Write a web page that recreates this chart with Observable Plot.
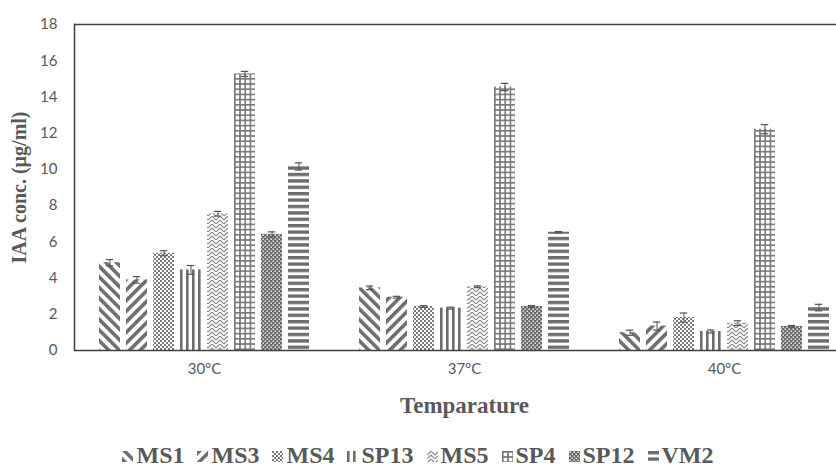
<!DOCTYPE html>
<html>
<head>
<meta charset="utf-8">
<script src="https://cdn.jsdelivr.net/npm/d3@7"></script>
<script src="https://cdn.jsdelivr.net/npm/@observablehq/plot@0.6"></script>
<style>
  html, body { margin: 0; padding: 0; background: #fff; }
  #chart { width: 836px; }
  #legend {
    width: 836px; text-align: center; margin-top: 12px;
    font-family: "Liberation Serif", "Times New Roman", serif; font-weight: bold;
    font-size: 24px; color: #595959; white-space: nowrap; line-height: 26px;
  }
  #legend .item { display: inline-block; margin: 0 6.5px; }
  #legend svg { vertical-align: 1px; margin-right: 3px; }
</style>
</head>
<body>
<svg width="0" height="0" style="position:absolute">
  <defs>
    <pattern id="pat-MS1" patternUnits="userSpaceOnUse" width="7.5" height="7.5" patternTransform="rotate(-45)">
      <rect width="7.5" height="7.5" fill="#fff"/><rect width="3.6" height="7.5" fill="#6e6e6e"/>
    </pattern>
    <pattern id="pat-MS3" patternUnits="userSpaceOnUse" width="7.5" height="7.5" patternTransform="rotate(45)">
      <rect width="7.5" height="7.5" fill="#fff"/><rect width="3.6" height="7.5" fill="#6e6e6e"/>
    </pattern>
    <pattern id="pat-MS4" patternUnits="userSpaceOnUse" width="4" height="4">
      <rect width="4" height="4" fill="#fff"/><rect width="2" height="2" fill="#7a7a7a"/><rect x="2" y="2" width="2" height="2" fill="#7a7a7a"/>
    </pattern>
    <pattern id="pat-SP13" patternUnits="userSpaceOnUse" width="6" height="6">
      <rect width="6" height="6" fill="#fff"/><rect width="2.6" height="6" fill="#6e6e6e"/>
    </pattern>
    <pattern id="pat-MS5" patternUnits="userSpaceOnUse" width="8" height="8">
      <rect width="8" height="8" fill="#fff"/>
      <path d="M0,4 L4,0 L8,4 M0,8 L4,4 L8,8" fill="none" stroke="#8a8a8a" stroke-width="1.2"/>
    </pattern>
    <pattern id="pat-SP4" patternUnits="userSpaceOnUse" width="5.2" height="5.2">
      <rect width="5.2" height="5.2" fill="#fff"/><rect width="1.6" height="5.2" fill="#777"/><rect width="5.2" height="1.6" fill="#777"/>
    </pattern>
    <pattern id="pat-SP12" patternUnits="userSpaceOnUse" width="4" height="4">
      <rect width="4" height="4" fill="#6a6a6a"/><rect x="0.5" y="0.5" width="1.4" height="1.4" fill="#fff"/><rect x="2.5" y="2.5" width="1.4" height="1.4" fill="#fff"/>
    </pattern>
    <pattern id="pat-VM2" patternUnits="userSpaceOnUse" width="6.4" height="6.4">
      <rect width="6.4" height="6.4" fill="#fff"/><rect width="6.4" height="3.4" fill="#6e6e6e"/>
    </pattern>
  </defs>
</svg>
<div id="chart"></div>
<div id="legend"></div>
<script>
// ---- data ----
const temperatures = ["30°C", "37°C", "40°C"];
const strains = ["MS1", "MS3", "MS4", "SP13", "MS5", "SP4", "SP12", "VM2"];
// mean IAA concentration (µg/ml) per strain at 30, 37, 40 °C
const MS1  = [4.85, 3.46, 0.98];
const MS3  = [3.90, 2.94, 1.35];
const MS4  = [5.37, 2.43, 1.82];
const SP13 = [4.45, 2.34, 1.05];
const MS5  = [7.55, 3.52, 1.51];
const SP4  = [15.27, 14.55, 12.22];
const SP12 = [6.41, 2.43, 1.33];
const VM2  = [10.16, 6.53, 2.37];
// standard errors
const MS1err  = [0.17, 0.10, 0.14];
const MS3err  = [0.18, 0.05, 0.22];
const MS4err  = [0.14, 0.05, 0.25];
const SP13err = [0.24, 0.05, 0.08];
const MS5err  = [0.13, 0.05, 0.13];
const SP4err  = [0.14, 0.20, 0.25];
const SP12err = [0.14, 0.05, 0.05];
const VM2err  = [0.20, 0.04, 0.18];
const yTicks = [0, 2, 4, 6, 8, 10, 12, 14, 16, 18];

const series = {MS1, MS3, MS4, SP13, MS5, SP4, SP12, VM2};
const errors = {MS1: MS1err, MS3: MS3err, MS4: MS4err, SP13: SP13err, MS5: MS5err, SP4: SP4err, SP12: SP12err, VM2: VM2err};
const rows = [];
temperatures.forEach((t, i) => strains.forEach(s => rows.push({temp: t, strain: s, value: series[s][i], err: errors[s][i]})));

const ink = "#404040";
const chart = Plot.plot({
  width: 836,
  height: 430,
  marginTop: 24,
  marginBottom: 80,
  marginLeft: 74,
  marginRight: 0,
  style: {fontFamily: "Lato, 'Open Sans', sans-serif", fontSize: "14px", color: "#595959", background: "#fff"},
  fx: {domain: temperatures, range: [74, 854], padding: 0, label: null},
  x: {domain: strains, paddingInner: 0.21, paddingOuter: 0.885, axis: null},
  y: {domain: [0, 18], labelArrow: "none"},
  marks: [
    Plot.barY(rows, {fx: "temp", x: "strain", y: "value", fill: d => `url(#pat-${d.strain})`}),
    Plot.ruleX(rows, {fx: "temp", x: "strain", y1: d => d.value - d.err, y2: d => d.value + d.err, stroke: "#555", strokeWidth: 1}),
    Plot.tickY(rows, {fx: "temp", x: "strain", y: d => d.value + d.err, stroke: "#555", strokeWidth: 1.2, insetLeft: 6.8, insetRight: 6.8}),
    Plot.tickY(rows, {fx: "temp", x: "strain", y: d => d.value - d.err, stroke: "#555", strokeWidth: 1.2, insetLeft: 6.8, insetRight: 6.8}),
    Plot.ruleY([0], {stroke: ink, strokeWidth: 1.5}),
    Plot.ruleY([18], {stroke: ink, strokeWidth: 1.5}),
    Plot.frame({anchor: "left", facetAnchor: "left", stroke: ink, strokeWidth: 1.5}),
    Plot.axisY({ticks: yTicks, tickSize: 0, tickPadding: 17, label: null, fontSize: 15}),
    Plot.axisY({ticks: [], tickSize: 0, label: "IAA conc. (µg/ml)", labelArrow: "none", labelAnchor: "center", labelOffset: 63, dy: -10,
      fontFamily: "'Liberation Serif', serif", fontWeight: "bold", fontSize: 20}),
    Plot.axisFx({anchor: "bottom", tickSize: 0, tickPadding: 13, label: null, fontSize: 15}),
    Plot.axisFx({anchor: "bottom", ticks: [], tickSize: 0, label: "Temparature", labelArrow: "none", labelAnchor: "center", labelOffset: 62, dx: 9,
      fontFamily: "'Liberation Serif', serif", fontWeight: "bold", fontSize: 23})
  ]
});
document.getElementById("chart").append(chart);

// legend
const legend = document.getElementById("legend");
strains.forEach(s => {
  const span = document.createElement("span");
  span.className = "item";
  span.innerHTML = `<svg width="11" height="11"><rect width="11" height="11" fill="url(#pat-${s})"/></svg>${s}`;
  legend.append(span);
});
</script>
</body>
</html>
